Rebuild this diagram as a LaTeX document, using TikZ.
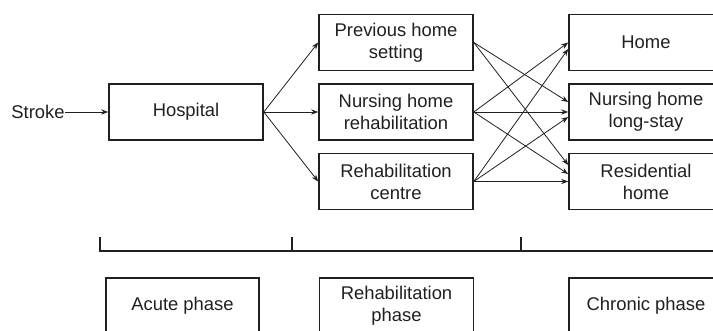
\documentclass[tikz,border=0pt]{standalone}
\usepackage{fontspec}
\setmainfont{Liberation Sans}
\usetikzlibrary{arrows.meta,calc}
\definecolor{ink}{HTML}{231F20}
\begin{document}
\begin{tikzpicture}[x=0.5pt,y=-0.5pt,
  txt/.style={font=\fontsize{9.2pt}{11pt}\selectfont,text=ink},
  box/.style={txt,draw=ink,line width=0.8pt,minimum width=77pt,minimum height=28pt,inner sep=0pt,align=center},
  arr/.style={draw=ink,line width=0.4pt,-{Stealth[length=3.5pt,width=2.6pt]}},
  tl/.style={draw=ink,line width=0.8pt},
]
\useasboundingbox (0,0) rectangle (713,331);
\clip (0,0) rectangle (713,331);
\fill[white] (0,0) rectangle (713,331);
% boxes
\node[box] (hosp) at (186,112) {Hospital};
\node[box] (prev) at (396,42.5) {Previous home\\setting};
\node[box] (nrh) at (396,112) {Nursing home\\rehabilitation};
\node[box] (rc) at (396,181.5) {Rehabilitation\\centre};
\node[box] (home) at (646,42.5) {Home};
\node[box] (nls) at (646,112) {Nursing home\\long-stay};
\node[box] (res) at (646,181.5) {Residential\\home};
\node[txt,anchor=east,inner sep=0pt] (stroke) at (65,112) {Stroke};
% arrows
\draw[arr] (stroke.east) -- (hosp.west);
\draw[arr] (hosp.east) -- (prev.west);
\draw[arr] (hosp.east) -- (nrh.west);
\draw[arr] (hosp.east) -- (rc.west);
\draw[arr] (prev.east) -- ($(nls.west)+(0,-10)$);
\draw[arr] (prev.east) -- ($(res.west)+(0,-16.5)$);
\draw[arr] (nrh.east) -- (home.west);
\draw[arr] (nrh.east) -- (nls.west);
\draw[arr] (nrh.east) -- ($(res.west)+(0,-7.5)$);
\draw[arr] (rc.east) -- ($(home.west)+(0,6.5)$);
\draw[arr] (rc.east) -- ($(nls.west)+(0,5)$);
\draw[arr] (rc.east) -- (res.west);
% timeline
\coordinate (ta) at (100,237);
\coordinate (tb) at (292,237);
\coordinate (tc) at (521,237);
\coordinate (ta0) at (100,251);
\coordinate (tb0) at (292,251);
\coordinate (tc0) at (521,251);
\coordinate (tend) at (720,251);
\draw[tl] (ta) -- (ta0) -- (tend);
\draw[tl] (tb) -- (tb0);
\draw[tl] (tc) -- (tc0);
% phases
\node[box,minimum width=76.5pt] (acute) at (182.5,306) {Acute phase};
\node[box] (rphase) at (396.5,306) {Rehabilitation\\phase};
\node[box] (chron) at (646,306) {Chronic phase};
\end{tikzpicture}
\end{document}
